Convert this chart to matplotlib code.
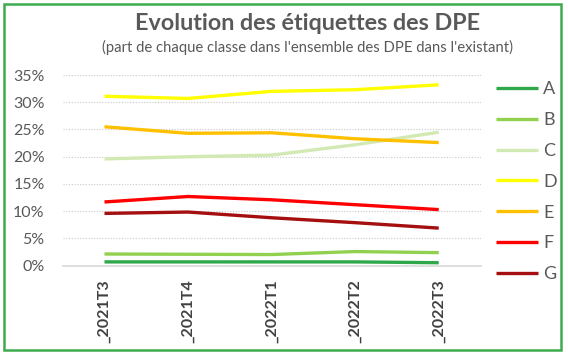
import matplotlib.pyplot as plt

# trimestres et part de chaque classe DPE (%)
trimestres = ['_2021T3', '_2021T4', '_2022T1', '_2022T2', '_2022T3']
classes = ['A', 'B', 'C', 'D', 'E', 'F', 'G']
part_A = [0.7, 0.7, 0.7, 0.7, 0.55]
part_B = [2.15, 2.1, 2.05, 2.6, 2.4]
part_C = [19.6, 20.0, 20.3, 22.2, 24.5]
part_D = [31.1, 30.7, 32.0, 32.3, 33.2]
part_E = [25.5, 24.3, 24.4, 23.3, 22.6]
part_F = [11.7, 12.7, 12.1, 11.2, 10.3]
part_G = [9.6, 9.85, 8.8, 7.9, 6.9]
series = [part_A, part_B, part_C, part_D, part_E, part_F, part_G]
couleurs = ['#2EA84B', '#92D050', '#D3E9B4', '#FFFF00', '#FFC000', '#FF0000', '#A50F0F']

gris = '#595959'
plt.rcParams['font.family'] = ['Lato', 'DejaVu Sans']

fig = plt.figure(figsize=(5.68, 3.57), dpi=100)
ax = fig.add_axes([0.1104, 0.2557, 0.7356, 0.5342])

x = range(len(trimestres))
for nom, valeurs, c in zip(classes, series, couleurs):
    ax.plot(x, valeurs, color=c, lw=2.4, label=nom, solid_capstyle='butt')

ax.set_xlim(-0.5, 4.5)
ax.set_ylim(0, 35)
ax.set_yticks(range(0, 36, 5))
ax.set_yticklabels([f'{v}%' for v in range(0, 36, 5)], color=gris, fontsize=11.5)
ax.set_xticks(list(x))
ax.set_xticklabels(trimestres, rotation=90, fontsize=11.5, fontweight='bold', color='#404040')
ax.tick_params(axis='y', length=0, pad=13)
ax.tick_params(axis='x', length=0, pad=10)
ax.grid(True, axis='y', color='#C8C8C8', lw=0.8, ls=(0, (1, 1.5)))
ax.set_axisbelow(True)
for s in ['top', 'right', 'left']:
    ax.spines[s].set_visible(False)
ax.spines['bottom'].set_color('#D9D9D9')
ax.spines['bottom'].set_linewidth(1.2)

fig.legend(loc='upper left', bbox_to_anchor=(0.874, 0.772), frameon=False,
           fontsize=13, labelcolor=gris, handlelength=2.3, handletextpad=0.28,
           labelspacing=0.82, borderaxespad=0, borderpad=0)

fig.text(0.542, 0.915, 'Evolution des étiquettes des DPE', ha='center',
         fontsize=16.8, fontweight='bold', color=gris)
fig.text(0.541, 0.853, "(part de chaque classe dans l'ensemble des DPE dans l'existant)",
         ha='center', fontsize=10.7, color=gris)

# cadre vert autour du graphique
cadre = plt.Rectangle((0.007, 0.02), 0.981, 0.97, transform=fig.transFigure,
                      fill=False, edgecolor='#3DAA4E', lw=1.8)
fig.add_artist(cadre)

fig.savefig('out.png', dpi=100, facecolor='white')
